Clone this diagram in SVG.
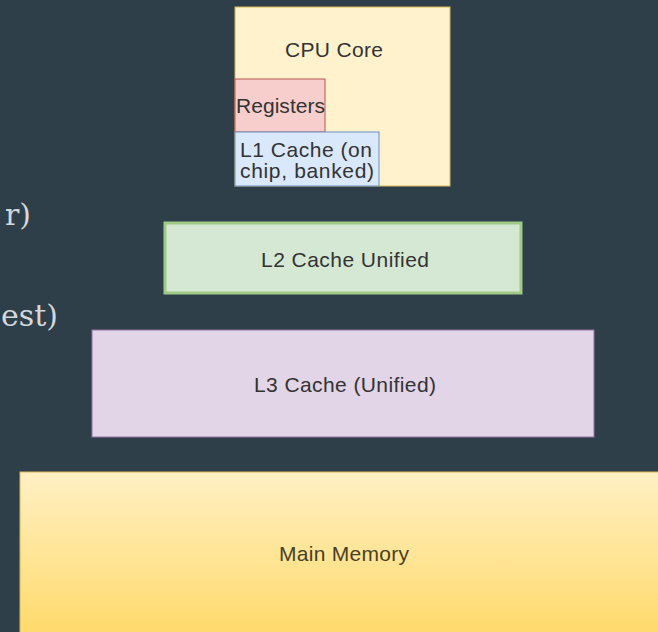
<svg xmlns="http://www.w3.org/2000/svg" width="658" height="632" viewBox="0 0 658 632">
<style>
.lbl{font-family:"Liberation Sans",Arial,sans-serif;font-size:21px;fill:#333333}
.side{font-family:"DejaVu Serif",serif;font-size:30px;fill:#d4d8dc}
</style>
<defs>
<linearGradient id="mm" x1="0" y1="0" x2="0" y2="1">
<stop offset="0" stop-color="#fff0c4"/>
<stop offset="1" stop-color="#ffd966"/>
</linearGradient>
</defs>
<rect x="0" y="0" width="658" height="632" fill="#2f3f4a"/>
<text class="side" x="31" y="225" text-anchor="end">r)</text>
<text class="side" x="58" y="326" text-anchor="end">est)</text>
<g id="cpu">
<rect x="235" y="7" width="215" height="179" fill="#fff2cc" stroke="#d6b656"/>
<text class="lbl" x="334" y="57" text-anchor="middle" textLength="98">CPU Core</text>
</g>
<g id="registers">
<rect x="235" y="79" width="90" height="53" fill="#f8cecc" stroke="#b85450"/>
<text class="lbl" x="236" y="113" textLength="89">Registers</text>
</g>
<g id="l1">
<rect x="235" y="132" width="144" height="54" fill="#dae8fc" stroke="#6c8ebf"/>
<text class="lbl" x="240" y="157" textLength="132">L1 Cache (on</text>
<text class="lbl" x="240" y="178" textLength="134">chip, banked)</text>
</g>
<g id="l2">
<rect x="165" y="223" width="356" height="70" fill="#d5e8d4" stroke="#9fcb85" stroke-width="3"/>
<text class="lbl" x="345" y="267" text-anchor="middle" textLength="168">L2 Cache Unified</text>
</g>
<g id="l3">
<rect x="92" y="330" width="502" height="107" fill="#e1d5e7" stroke="#9673a6"/>
<text class="lbl" x="345" y="392" text-anchor="middle" textLength="182">L3 Cache (Unified)</text>
</g>
<g id="main">
<rect x="20" y="472" width="650" height="170" fill="url(#mm)" stroke="#d6b656"/>
<text class="lbl" x="344" y="561" text-anchor="middle" textLength="130" style="fill:#4a3f25">Main Memory</text>
</g>
<g id="connectors"></g>
</svg>
